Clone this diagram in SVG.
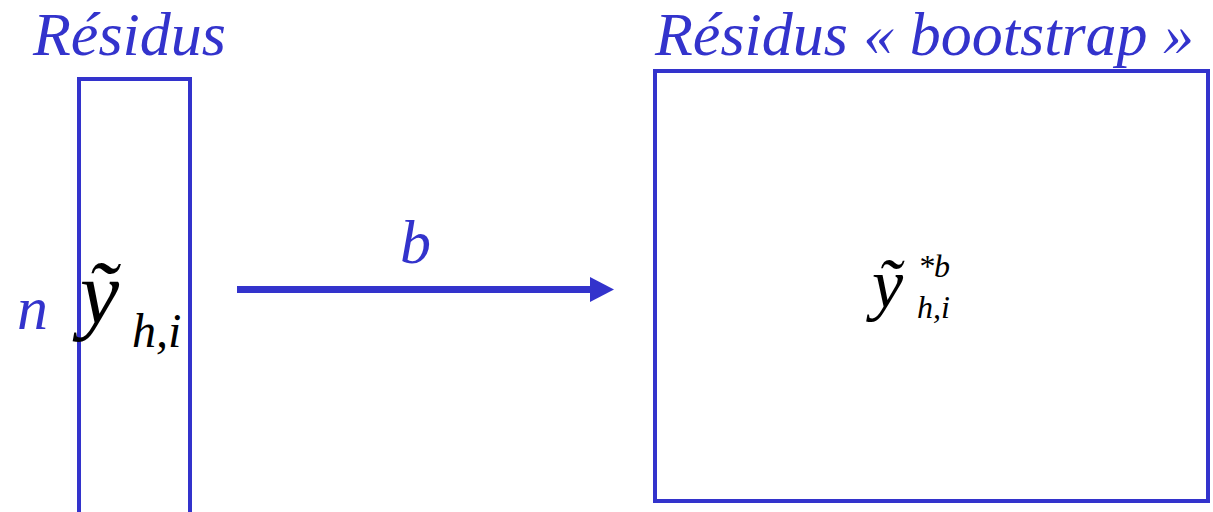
<svg xmlns="http://www.w3.org/2000/svg" width="1213" height="512" viewBox="0 0 1213 512">
<style>
.box{fill:none;stroke:#3333CC;stroke-width:4}
</style>
<g id="left">
<text font-family="Liberation Serif" font-style="italic" fill="#3333CC" x="33" y="55" font-size="62">Résidus</text>
<rect class="box" x="79" y="79" width="111" height="440"/>
<text font-family="Liberation Serif" font-style="italic" fill="#3333CC" x="17" y="329" font-size="62">n</text>
<text font-family="Liberation Serif" font-style="italic" fill="#000000" x="80" y="323" font-size="88">ỹ</text>
<text font-family="Liberation Serif" font-style="italic" fill="#000000" x="132" y="347" font-size="48">h,i</text>
</g>
<g id="right">
<text font-family="Liberation Serif" font-style="italic" fill="#3333CC" x="655" y="55" font-size="62">Résidus « bootstrap »</text>
<rect class="box" x="655" y="71" width="553" height="430"/>
<text font-family="Liberation Serif" font-style="italic" fill="#000000" x="872" y="307" font-size="70">ỹ</text>
<text font-family="Liberation Serif" font-style="italic" fill="#000000" x="918" y="277" font-size="32">*b</text>
<text font-family="Liberation Serif" font-style="italic" fill="#000000" x="917" y="318" font-size="32">h,i</text>
</g>
<g id="connectors">
<text font-family="Liberation Serif" font-style="italic" fill="#3333CC" x="400" y="263" font-size="62">b</text>
<line x1="237" y1="289.5" x2="592" y2="289.5" stroke="#3333CC" stroke-width="7"/>
<path d="M590,277 L614,289.5 L590,302 Z" fill="#3333CC"/>
</g>
</svg>
